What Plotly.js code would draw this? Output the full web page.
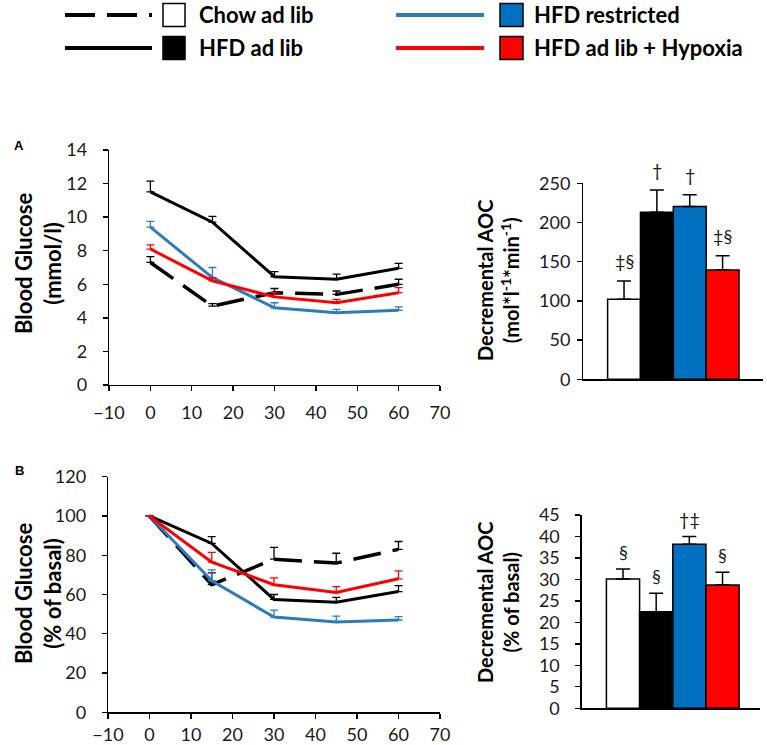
<!DOCTYPE html>
<html>
<head>
<meta charset="utf-8">
<script src="https://cdn.plot.ly/plotly-3.0.1.min.js"></script>
<style>
  html, body { margin: 0; padding: 0; background: #fff; }
  #plot { width: 767px; height: 745px; }
</style>
</head>
<body>
<div id="plot"></div>
<script>
// data
const times = [0, 15, 30, 45, 60];
const groups = ['Chow ad lib', 'HFD ad lib', 'HFD restricted', 'HFD ad lib + Hypoxia'];

// A: blood glucose (mmol/l)
const chowA = [7.3, 4.7, 5.5, 5.4, 6.0];
const chowAErr = [0.35, 0.15, 0.25, 0.2, 0.3];
const hfdA = [11.5, 9.7, 6.45, 6.3, 6.95];
const hfdAErr = [0.65, 0.35, 0.3, 0.3, 0.3];
const restrA = [9.4, 6.4, 4.6, 4.3, 4.45];
const restrAErr = [0.35, 0.6, 0.3, 0.2, 0.2];
const hypoA = [8.1, 6.2, 5.25, 4.9, 5.5];
const hypoAErr = [0.25, 0.2, 0.25, 0.2, 0.3];

// A: decremental AOC
const aocA = [102, 213, 220.5, 139.5];
const aocAErr = [23.5, 28.5, 15, 18];
const sigA = ['‡§', '†', '†', '‡§'];

// B: blood glucose (% of basal)
const chowB = [100, 65, 78, 76, 83];
const chowBErr = [null, 6, 6, 5, 4];
const hfdB = [100, 86, 57.5, 56, 61.5];
const hfdBErr = [null, 3.5, 2.5, 2.5, 3];
const restrB = [100, 67, 48.5, 46, 47];
const restrBErr = [null, 5.5, 3.5, 3, 1.7];
const hypoB = [100, 76.5, 65, 61, 68];
const hypoBErr = [null, 5, 3.5, 3, 4];

// B: decremental AOC
const aocB = [30.1, 22.5, 38.2, 28.7];
const aocBErr = [2.3, 4.3, 1.8, 3];
const sigB = ['§', '§', '†‡', '§'];

// styling
const W = 767, H = 745;
const FONT = 'Lato, "Open Sans", sans-serif';
const lineColors = ['#000000', '#000000', '#2c7bbf', '#ff0000'];
const barColors = ['#ffffff', '#000000', '#0070c0', '#ff0000'];
const DASH = '28px,12px';

const px = x => x / W;
const py = y => 1 - y / H;

function lineTrace(y, err, idx, xa, ya) {
    return {
        x: times, y: y, xaxis: xa, yaxis: ya,
        type: 'scatter', mode: 'lines',
        line: { color: lineColors[idx], width: idx === 0 ? 3.5 : 3, dash: idx === 0 ? DASH : 'solid' },
        error_y: {
            type: 'data', symmetric: false, array: err,
            arrayminus: err.map(() => 0),
            color: lineColors[idx], thickness: 1.3, width: 4
        },
        hoverinfo: 'skip', showlegend: false
    };
}

function barTrace(vals, err, xa, ya) {
    return {
        x: groups, y: vals, xaxis: xa, yaxis: ya,
        type: 'bar',
        marker: { color: barColors, line: { color: '#000', width: 1.5 } },
        error_y: {
            type: 'data', symmetric: false, array: err,
            arrayminus: err.map(() => 0),
            color: '#000', thickness: 1.5, width: 7
        },
        hoverinfo: 'skip', showlegend: false
    };
}

const traces = [
    lineTrace(chowA, chowAErr, 0, 'x', 'y'),
    lineTrace(hfdA, hfdAErr, 1, 'x', 'y'),
    lineTrace(restrA, restrAErr, 2, 'x', 'y'),
    lineTrace(hypoA, hypoAErr, 3, 'x', 'y'),
    barTrace(aocA, aocAErr, 'x2', 'y2'),
    lineTrace(chowB, chowBErr, 0, 'x3', 'y3'),
    lineTrace(hfdB, hfdBErr, 1, 'x3', 'y3'),
    lineTrace(restrB, restrBErr, 2, 'x3', 'y3'),
    lineTrace(hypoB, hypoBErr, 3, 'x3', 'y3'),
    barTrace(aocB, aocBErr, 'x4', 'y4')
];

const tickFont = { family: FONT, size: 18, color: '#1a1a1a' };
const baseAxis = {
    showline: true, linecolor: '#000', linewidth: 1.3,
    ticks: 'outside', ticklen: 5, tickcolor: '#000', tickwidth: 1.3,
    showgrid: false, zeroline: false, tickfont: tickFont, fixedrange: true
};
const timeAxis = (dom, anchor, standoff) => Object.assign({}, baseAxis, {
    domain: dom, anchor: anchor, range: [-10, 70], tick0: -10, dtick: 10, ticklabelstandoff: standoff
});
const catAxis = (dom, anchor, rng) => Object.assign({}, baseAxis, {
    domain: dom, anchor: anchor, type: 'category', range: rng,
    ticks: '', showticklabels: false
});
const valAxis = (dom, anchor, top, step, standoff) => Object.assign({}, baseAxis, {
    domain: dom, anchor: anchor, range: [0, top], dtick: step, ticklabelstandoff: standoff
});

const annotations = [];
function note(x, y, text, opts) {
    annotations.push(Object.assign({
        xref: 'paper', yref: 'paper', x: px(x), y: py(y), text: text,
        xanchor: 'center', yanchor: 'middle',
        showarrow: false, font: { family: FONT, size: 21, color: '#000' }
    }, opts || {}));
}

// axis titles
const titleFont = size => ({ family: FONT, size: size, color: '#000' });
note(38, 264, '<b>Blood Glucose<br>(mmol/l)</b>', { textangle: -90, font: titleFont(22) });
note(498, 281, '<b>Decremental AOC<br>(mol*l<sup>-1</sup>*min<sup>-1</sup>)</b>', { textangle: -90, font: titleFont(20) });
note(38, 594, '<b>Blood Glucose<br>(% of basal)</b>', { textangle: -90, font: titleFont(22) });
note(498, 603, '<b>Decremental AOC<br>(% of basal)</b>', { textangle: -90, font: titleFont(20) });

// panel letters
note(19, 145, '<b>A</b>', { font: { family: 'Liberation Sans, Arial, sans-serif', size: 13, color: '#000' } });
note(19, 470, '<b>B</b>', { font: { family: 'Liberation Sans, Arial, sans-serif', size: 13, color: '#000' } });

// significance marks above the bars
groups.forEach((g, i) => {
    annotations.push({
        xref: 'x2', yref: 'y2', x: g, y: aocA[i] + aocAErr[i], text: sigA[i],
        yanchor: 'middle', yshift: 20, showarrow: false,
        font: { family: FONT, size: 18, color: '#1a1a1a' }
    });
    annotations.push({
        xref: 'x4', yref: 'y4', x: g, y: aocB[i] + aocBErr[i], text: sigB[i],
        yanchor: 'middle', yshift: 17, showarrow: false,
        font: { family: FONT, size: 18, color: '#1a1a1a' }
    });
});

// legend at the top
const shapes = [];
const legendRows = [15, 48];
const legendLine = [[65, 152], [396, 484]];
const legendBox = [[163, 185], [500, 523]];
const legendText = [197, 532];
groups.forEach((g, i) => {
    const col = i === 0 || i === 1 ? 0 : 1;
    const row = i === 0 || i === 2 ? 0 : 1;
    const yc = legendRows[row];
    shapes.push({
        type: 'line', xref: 'paper', yref: 'paper',
        x0: px(legendLine[col][0]), x1: px(legendLine[col][1]), y0: py(yc), y1: py(yc),
        line: { color: lineColors[i], width: 3.8, dash: i === 0 ? '30px,12px' : 'solid' }
    });
    shapes.push({
        type: 'rect', xref: 'paper', yref: 'paper',
        x0: px(legendBox[col][0]), x1: px(legendBox[col][1]), y0: py(yc - 11.5), y1: py(yc + 11.5),
        fillcolor: barColors[i], line: { color: '#000', width: 1.5 }
    });
    note(legendText[col], yc, '<b>' + g + '</b>', {
        xanchor: 'left', font: { family: FONT, size: 22, color: '#000' }
    });
});

const layout = {
    width: W, height: H,
    margin: { l: 0, r: 0, t: 0, b: 0 },
    paper_bgcolor: '#fff', plot_bgcolor: '#fff',
    font: { family: FONT, color: '#1a1a1a' },
    bargap: 0,
    showlegend: false,
    xaxis: timeAxis([px(109), px(440)], 'y', 6),
    yaxis: valAxis([py(385), py(150)], 'x', 14, 2, 12),
    xaxis2: catAxis([px(583.3), px(763)], 'y2', [-1.24, 4.23]),
    yaxis2: valAxis([py(379.3), py(183.3)], 'x2', 250, 50, 3),
    xaxis3: timeAxis([px(108), px(440)], 'y3', 1),
    yaxis3: valAxis([py(712.3), py(476.7)], 'x3', 120, 20, 12),
    xaxis4: catAxis([px(581.7), px(760)], 'y4', [-1.245, 4.13]),
    yaxis4: valAxis([py(708.3), py(515)], 'x4', 45, 5, 12),
    annotations: annotations,
    shapes: shapes
};

Plotly.newPlot('plot', traces, layout, { staticPlot: true, displayModeBar: false });
</script>
</body>
</html>
